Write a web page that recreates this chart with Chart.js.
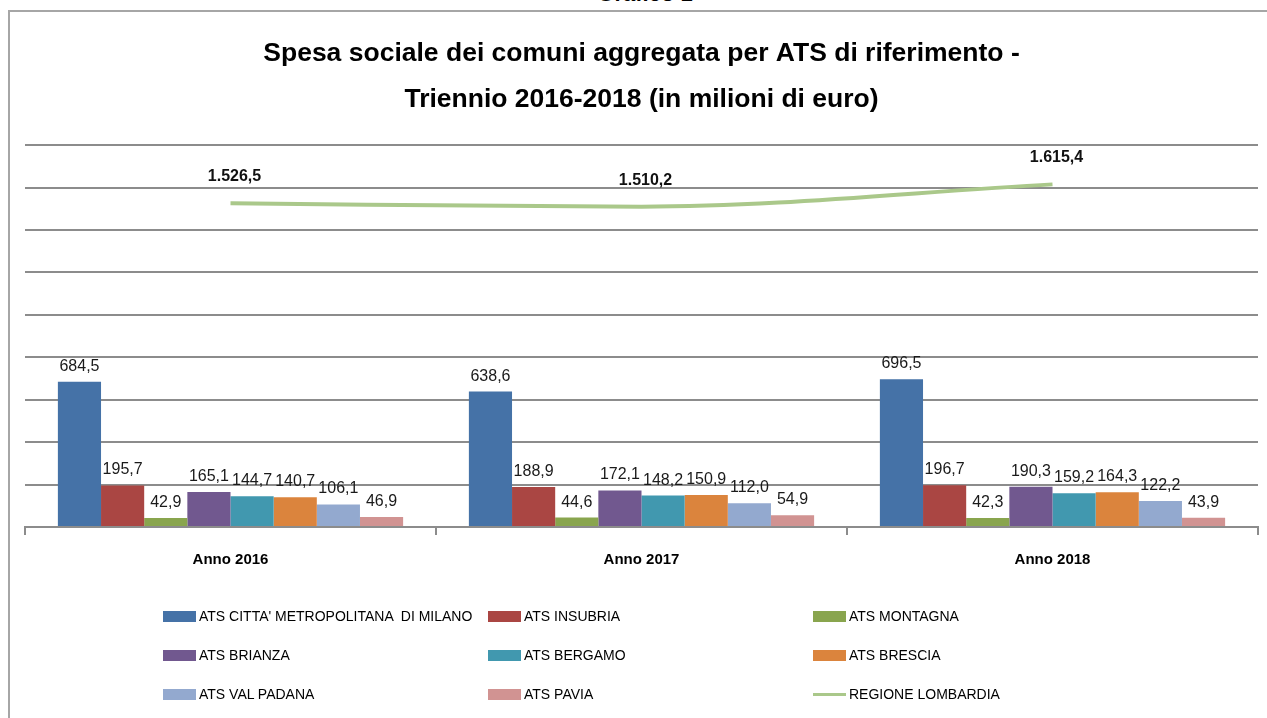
<!DOCTYPE html>
<html>
<head>
<meta charset="utf-8">
<script src="https://cdn.jsdelivr.net/npm/chart.js@4"></script>
<style>
  html, body { margin: 0; padding: 0; background: #fff; overflow: hidden; }
  body { width: 1267px; height: 718px; position: relative; }
  #caption {
    position: absolute; left: 0; width: 1290px; top: -19px; text-align: center;
    font: bold 22px "Liberation Sans", sans-serif; color: #000;
  }
  #frame {
    position: absolute; left: 8px; top: 10px; width: 1290px; height: 740px;
    border: 2px solid #a6a6a6; box-sizing: border-box; background: transparent;
  }
  #chartBox { position: absolute; left: 10px; top: 12px; width: 1264px; height: 706px; }
  #legend {
    position: absolute; left: 163px; top: 604px;
    display: grid; grid-template-columns: 325px 325px 325px; grid-auto-rows: 39px;
    font: 14px "Liberation Sans", sans-serif; color: #000;
  }
  .item { display: flex; align-items: center; height: 24px; }
  .swatch { width: 33px; height: 11px; margin-right: 3px; box-sizing: border-box; }
  .lineSwatch { width: 33px; height: 3px; margin-right: 3px; position: relative; }
</style>
</head>
<body>
<div id="caption">Grafico 1</div>
<div id="frame"></div>
<div id="chartBox"><canvas id="chart"></canvas></div>
<div id="legend"></div>
<script>
const categories = ['Anno 2016', 'Anno 2017', 'Anno 2018'];

const seriesNames = [
  "ATS CITTA' METROPOLITANA  DI MILANO",
  'ATS INSUBRIA',
  'ATS MONTAGNA',
  'ATS BRIANZA',
  'ATS BERGAMO',
  'ATS BRESCIA',
  'ATS VAL PADANA',
  'ATS PAVIA'
];
const milano = [684.5, 638.6, 696.5];
const insubria = [195.7, 188.9, 196.7];
const montagna = [42.9, 44.6, 42.3];
const brianza = [165.1, 172.1, 190.3];
const bergamo = [144.7, 148.2, 159.2];
const brescia = [140.7, 150.9, 164.3];
const valPadana = [106.1, 112.0, 122.2];
const pavia = [46.9, 54.9, 43.9];

const lineName = 'REGIONE LOMBARDIA';
const lombardia = [1526.5, 1510.2, 1615.4];

const yMax = 1800;
const yStep = 200;

const barColors = ['#4572A7', '#AA4643', '#89A54E', '#71588F', '#4198AF', '#DB843D', '#93A9CF', '#D19392'];
const lineColor = '#AAC88A';

// numbers in italian style: 1.526,5
function fmt(v) {
  let parts = v.toFixed(1).split('.');
  let int = parts[0].replace(/\B(?=(\d{3})+(?!\d))/g, '.');
  return int + ',' + parts[1];
}

const barSeries = [milano, insubria, montagna, brianza, bergamo, brescia, valPadana, pavia];

const datasets = barSeries.map((values, i) => ({
  type: 'bar',
  label: seriesNames[i],
  data: values,
  backgroundColor: barColors[i],
  borderWidth: 0,
  barPercentage: 1,
  categoryPercentage: 0.84
}));

datasets.push({
  type: 'line',
  label: lineName,
  data: lombardia,
  borderColor: lineColor,
  backgroundColor: lineColor,
  borderWidth: 4,
  pointRadius: 0,
  cubicInterpolationMode: 'monotone'
});

const valueLabels = {
  id: 'valueLabels',
  afterDatasetsDraw(chart) {
    const ctx = chart.ctx;
    ctx.save();
    ctx.textAlign = 'center';
    ctx.textBaseline = 'alphabetic';
    chart.data.datasets.forEach((ds, di) => {
      const meta = chart.getDatasetMeta(di);
      meta.data.forEach((el, i) => {
        if (ds.type === 'line') {
          ctx.font = 'bold 16px "Liberation Sans", sans-serif';
          ctx.fillStyle = '#111';
          ctx.fillText(fmt(ds.data[i]), el.x + 4, el.y - 22);
        } else {
          ctx.font = '16px "Liberation Sans", sans-serif';
          ctx.fillStyle = '#1a1a1a';
          ctx.fillText(fmt(ds.data[i]), el.x, el.y - 11);
        }
      });
    });
    ctx.restore();
  }
};

const chart = new Chart(document.getElementById('chart'), {
  data: { labels: categories, datasets: datasets },
  options: {
    responsive: true,
    maintainAspectRatio: false,
    animation: false,
    layout: { padding: { left: 15, right: 16, top: 0, bottom: 141 } },
    plugins: {
      legend: { display: false },
      tooltip: { enabled: false },
      title: {
        display: true,
        text: ['Spesa sociale dei comuni aggregata per ATS di riferimento -', 'Triennio 2016-2018 (in milioni di euro)'],
        color: '#000',
        font: { family: '"Liberation Sans", sans-serif', size: 26.5, weight: 'bold', lineHeight: 1.74 },
        padding: { top: 19, bottom: 22 }
      }
    },
    scales: {
      x: {
        grid: { display: true, drawOnChartArea: false, drawTicks: true, tickLength: 8, color: '#8c8c8c', lineWidth: 2 },
        border: { display: true, color: '#8c8c8c', width: 2 },
        ticks: { color: '#000', padding: 16, font: { family: '"Liberation Sans", sans-serif', size: 15, weight: 'bold' } },
        afterFit(scale) { scale.height = 50; }
      },
      y: {
        min: 0,
        max: yMax,
        ticks: { display: false, stepSize: yStep },
        grid: { color: '#8c8c8c', lineWidth: 2, drawTicks: false },
        border: { display: false }
      }
    }
  },
  plugins: [valueLabels]
});

// legend laid out in a 3 column grid, items taken from the chart
const legendBox = document.getElementById('legend');
chart.options.plugins.legend.labels.generateLabels(chart)
  .sort((a, b) => a.datasetIndex - b.datasetIndex)
  .forEach(item => {
    const ds = chart.data.datasets[item.datasetIndex];
    const row = document.createElement('div');
    row.className = 'item';
    const sw = document.createElement('span');
    if (ds.type === 'line') {
      sw.className = 'lineSwatch';
      sw.style.background = ds.borderColor;
    } else {
      sw.className = 'swatch';
      sw.style.background = item.fillStyle;
    }
    const txt = document.createElement('span');
    txt.textContent = item.text;
    txt.style.whiteSpace = 'pre';
    row.appendChild(sw);
    row.appendChild(txt);
    legendBox.appendChild(row);
  });
</script>
</body>
</html>
